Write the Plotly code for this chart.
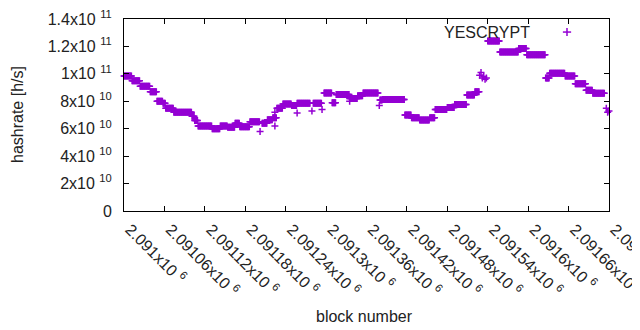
import plotly.graph_objects as go

BASE = 2091000
# constant-value runs of blocks (offset from BASE), hashrate in units of 1e9 h/s
seg_start = [0, 12, 24, 39, 49, 58, 62, 74, 101, 105, 110, 131, 143, 154, 165, 172, 187, 205, 213, 221,
             227, 236, 249, 257, 281, 297, 309, 315, 335, 347, 355, 380, 384, 417, 427, 439, 454, 462, 480,
             491, 509, 521, 540, 558, 586, 598, 626, 632, 655, 670, 686, 696]
seg_end = [11, 23, 38, 48, 57, 61, 73, 100, 104, 109, 130, 142, 153, 164, 171, 186, 201, 212, 220, 226,
           235, 248, 256, 276, 293, 308, 314, 334, 346, 354, 377, 383, 416, 426, 438, 453, 461, 479, 490,
           508, 520, 527, 557, 585, 597, 625, 631, 654, 669, 685, 695, 713]
seg_value = [98.5, 95, 91, 87, 80, 78.5, 75, 72, 69, 66, 62, 60, 62, 61, 64, 61.5, 65, 64, 66.5, 68,
             75, 78, 77, 78.5, 78.5, 86, 79, 85, 82, 84, 86, 81, 81.3, 70, 68, 66.4, 68, 74, 75.5,
             77.7, 84.6, 87, 124, 116, 118.5, 114, 97, 100.5, 98.5, 92.8, 88, 85.8]
# isolated blocks
pt_block = [202, 224, 224, 257, 279, 294, 335, 379, 528, 530, 532, 534, 536, 538, 716, 718, 720]
pt_value = [58, 62, 72, 71.5, 73, 74, 80, 77, 99, 101, 97, 98, 96, 97, 75, 72, 73]

x_ticks = [BASE + 60 * k for k in range(13)]
x_tick_labels = ["2.091", "2.09106", "2.09112", "2.09118", "2.09124", "2.0913", "2.09136",
                 "2.09142", "2.09148", "2.09154", "2.0916", "2.09166", "2.09172"]
y_ticks = [0, 2e10, 4e10, 6e10, 8e10, 1e11, 1.2e11, 1.4e11]
y_tick_labels = ["0", "2x10 <sup>10</sup>", "4x10 <sup>10</sup>", "6x10 <sup>10</sup>", "8x10 <sup>10</sup>",
                 "1x10 <sup>11</sup>", "1.2x10 <sup>11</sup>", "1.4x10 <sup>11</sup>"]

xs, ys = [], []
for s, e, v in zip(seg_start, seg_end, seg_value):
    for b in range(s, e + 1):
        xs.append(BASE + b)
        ys.append(v * 1e9)
for b, v in zip(pt_block, pt_value):
    xs.append(BASE + b)
    ys.append(v * 1e9)

COL = "#9400D3"
FONT = "Liberation Sans, Arial, sans-serif"
TXT = "#222"

fig = go.Figure()
fig.add_trace(go.Scatter(
    x=xs, y=ys, mode="markers", showlegend=False, cliponaxis=False,
    marker=dict(symbol="cross-thin", size=5, color=COL, line=dict(color=COL, width=1.5)),
))

axis_common = dict(
    showline=True, linecolor="black", linewidth=1, mirror="allticks",
    ticks="inside", ticklen=5, tickcolor="black", showgrid=False, zeroline=False,
    automargin=False, ticklabeloverflow="allow", tickfont=dict(family=FONT, size=16, color=TXT),
)
fig.update_xaxes(
    range=[BASE, BASE + 720], tickvals=x_ticks,
    ticktext=[t + "x10 <sup>6</sup>" for t in x_tick_labels], tickangle=45,
    ticklabelshift=6, ticklabelstandoff=2,
    **axis_common,
)
fig.update_yaxes(
    range=[0, 1.4e11], tickvals=y_ticks, ticktext=y_tick_labels, ticklabelstandoff=8,
    **axis_common,
)

# axis titles
fig.add_annotation(xref="paper", yref="paper", x=-0.2206, y=0.5, xanchor="center", yanchor="middle",
                   text="hashrate [h/s]", textangle=-90, showarrow=False,
                   font=dict(family=FONT, size=16, color=TXT))
fig.add_annotation(xref="paper", yref="paper", x=0.495, y=-0.547, xanchor="center", yanchor="middle",
                   text="block number", showarrow=False, font=dict(family=FONT, size=16, color=TXT))

# gnuplot-style key: text followed by sample
fig.add_annotation(xref="paper", yref="paper", x=0.841, y=0.932, xanchor="right", yanchor="middle",
                   text="YESCRYPT", showarrow=False, font=dict(family=FONT, size=16, color=TXT))
cx, cy = 0.9134, 0.932
fig.add_shape(type="line", xref="paper", yref="paper", x0=cx - 0.0085, x1=cx + 0.0085, y0=cy, y1=cy,
              line=dict(color=COL, width=1.5))
fig.add_shape(type="line", xref="paper", yref="paper", x0=cx, x1=cx, y0=cy - 0.021, y1=cy + 0.021,
              line=dict(color=COL, width=1.5))

# page body has an 8px margin: offsets chosen so that the plot area sits at x 124-609, y 19-211
fig.update_layout(
    template="none", width=640, height=322,
    margin=dict(l=116, r=39, t=11, b=119),
    paper_bgcolor="white", plot_bgcolor="white",
    font=dict(family=FONT, size=16, color=TXT),
)
fig.write_html("out.html")
